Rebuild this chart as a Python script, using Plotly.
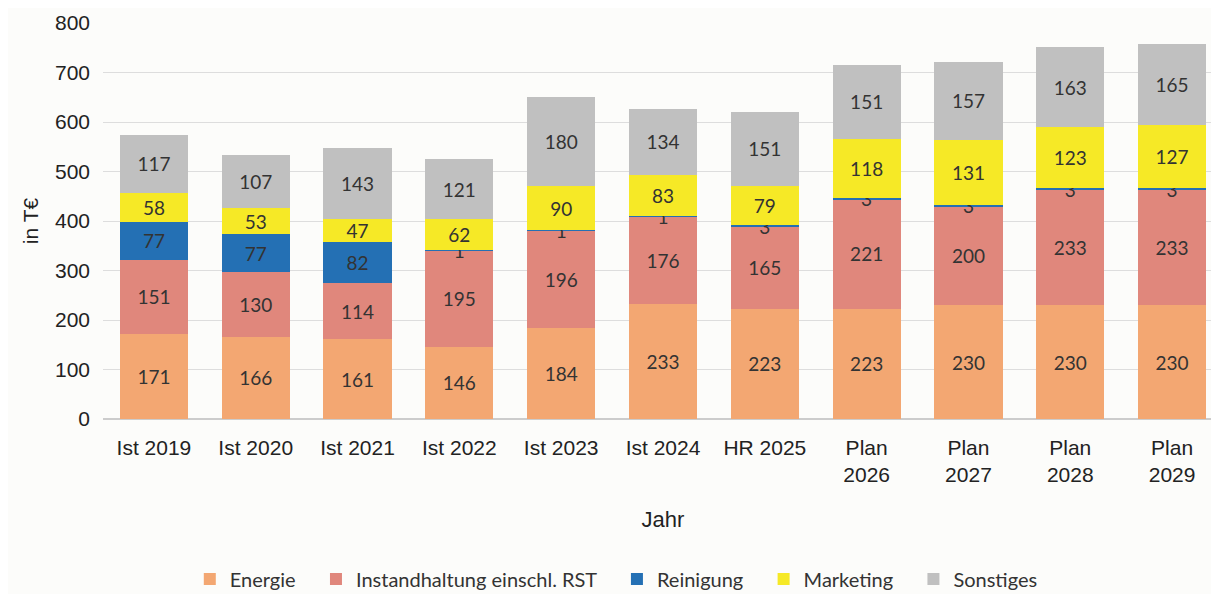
import plotly.graph_objects as go

jahre = ["Ist 2019", "Ist 2020", "Ist 2021", "Ist 2022", "Ist 2023", "Ist 2024", "HR 2025",
         "Plan<br>2026", "Plan<br>2027", "Plan<br>2028", "Plan<br>2029"]
energie = [171, 166, 161, 146, 184, 233, 223, 223, 230, 230, 230]
instandhaltung = [151, 130, 114, 195, 196, 176, 165, 221, 200, 233, 233]
reinigung = [77, 77, 82, 1, 1, 1, 3, 3, 3, 3, 3]
marketing = [58, 53, 47, 62, 90, 83, 79, 118, 131, 123, 127]
sonstiges = [117, 107, 143, 121, 180, 134, 151, 151, 157, 163, 165]

series = [
    ("Energie", energie, "#F3A772"),
    ("Instandhaltung einschl. RST", instandhaltung, "#E0877C"),
    ("Reinigung", reinigung, "#2470B4"),
    ("Marketing", marketing, "#F6E926"),
    ("Sonstiges", sonstiges, "#C0C0C0"),
]

fig = go.Figure()
for name, vals, col in series:
    fig.add_trace(go.Bar(
        x=jahre, y=vals, name=name + "   ", marker_color=col, marker_line_width=0,
        text=[str(v) for v in vals], textposition="inside", insidetextanchor="middle",
        constraintext="none", textangle=0,
        textfont=dict(family="Lato, Noto Sans, sans-serif", size=19, color="#333333"),
        cliponaxis=False,
    ))

fig.update_layout(
    barmode="stack", bargap=0.33,
    width=1219, height=594,
    margin=dict(l=95, r=4, t=15, b=166),
    paper_bgcolor="#FCFCFA", plot_bgcolor="#FCFCFA",
    font=dict(family="Liberation Sans, Arial, sans-serif", color="#222222"),
    legend=dict(orientation="h", x=0.465, xanchor="center", y=-0.355, yanchor="top",
                font=dict(family="Lato, Noto Sans, sans-serif", size=20, color="#333333"),
                itemwidth=30, traceorder="normal"),
    xaxis=dict(title=dict(text="Jahr", font=dict(size=22), standoff=26),
               tickfont=dict(size=21), showgrid=False, showline=False,
               ticklabelstandoff=14, automargin=False),
    yaxis=dict(title=dict(text="in T€", font=dict(size=21), standoff=10),
               range=[0, 800], dtick=100, tickfont=dict(size=21),
               showgrid=True, gridcolor="#DDDDDD", gridwidth=1,
               zeroline=True, zerolinecolor="#CCCCCC",
               ticklabelstandoff=12, automargin=False),
)

fig.write_html("out.html")
